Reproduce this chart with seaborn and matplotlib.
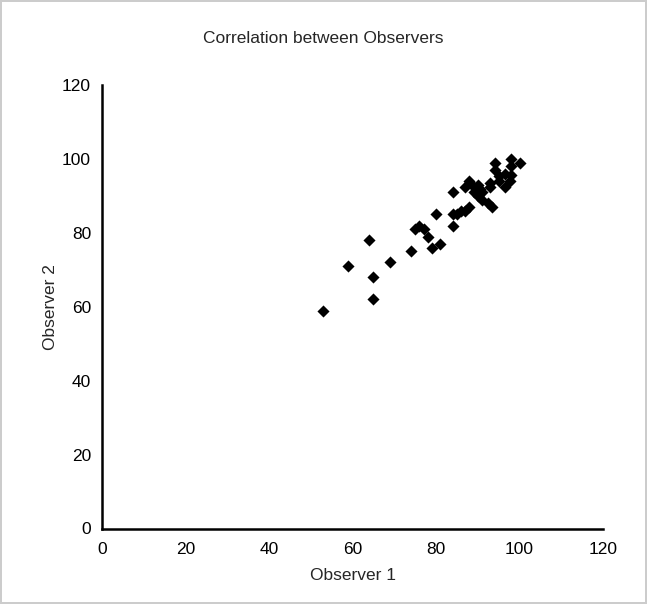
import pandas as pd
import matplotlib.pyplot as plt
import seaborn as sb

# Observer readings
observer_1 = [53, 59, 64, 65, 65, 69, 74,
              75, 76, 77, 78, 79, 81, 80, 84,
              84, 85, 84,
              86, 87, 88,
              87, 88, 88.5,
              90, 90.5, 91,
              89, 90, 91,
              93, 93, 92.5, 93.5,
              94, 94, 95, 95, 96.5, 96.5,
              98, 98, 98, 97.7, 100]
observer_2 = [59, 71, 78, 68, 62, 72, 75,
              81, 82, 81, 79, 76, 77, 85, 82,
              85, 85, 91,
              86, 86, 87,
              92.5, 94, 93,
              93, 92, 91,
              91, 90, 89,
              93.5, 92.5, 88, 87,
              99, 97, 95.5, 94, 96, 92.5,
              100, 98, 95.6, 94, 99]

ticks = [0, 20, 40, 60, 80, 100, 120]

sb.set_style('white')
plt.rcParams['font.family'] = ['Liberation Sans', 'DejaVu Sans']

df = pd.DataFrame({'Observer 1': observer_1, 'Observer 2': observer_2})

fig = plt.figure(figsize=(6.47, 6.04), dpi=100)
fig.patch.set_edgecolor('#cccccc')
fig.patch.set_linewidth(1.5)
ax = fig.add_axes([0.158, 0.125, 0.774, 0.734])

sb.scatterplot(data=df, x='Observer 1', y='Observer 2', marker='D',
               color='black', s=38, edgecolor='black', linewidth=0, ax=ax)

ax.set_xlim(0, 120)
ax.set_ylim(0, 120)
ax.set_xticks(ticks)
ax.set_yticks(ticks)
ax.tick_params(direction='in', length=4, width=1.5, labelsize=12.5, colors='black')
ax.tick_params(axis='x', pad=10)
ax.tick_params(axis='y', pad=8)
for side in ['top', 'right']:
    ax.spines[side].set_visible(False)
for side in ['left', 'bottom']:
    ax.spines[side].set_color('black')
    ax.spines[side].set_linewidth(1.8)

ax.set_xlabel('Observer 1', fontsize=12.5, labelpad=8)
ax.set_ylabel('Observer 2', fontsize=12.5, labelpad=3)
fig.suptitle('Correlation between Observers', fontsize=12.5, x=0.5, y=0.937, va='center')

fig.savefig('out.png', dpi=100)
